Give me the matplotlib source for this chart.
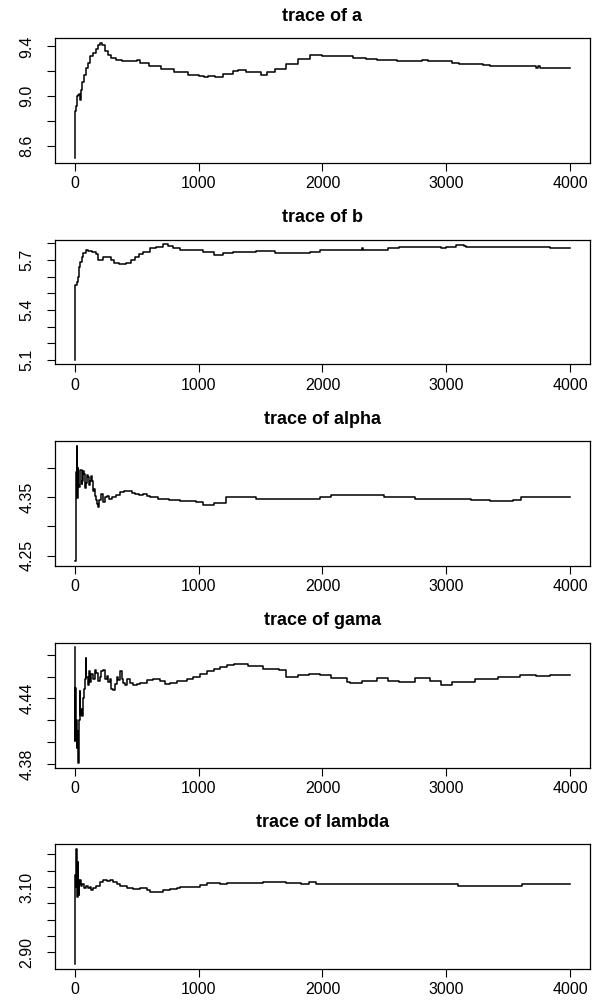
import numpy as np
import matplotlib
matplotlib.use('Agg')
import matplotlib.pyplot as plt
import matplotlib.ticker as mticker

plt.rcParams['font.family'] = ['Liberation Sans', 'DejaVu Sans']

N_ITER = 4000
x_ticks = [0, 1000, 2000, 3000, 4000]

# running-mean traces (iteration, value)
a_iter = [1, 5, 12, 18, 30, 37, 40, 50, 61, 75, 91, 105, 122, 145, 168, 190, 207, 220, 244, 265,
          290, 330, 380, 457, 500, 530, 600, 700, 800, 915, 1000, 1040, 1080, 1130, 1200, 1280,
          1320, 1380, 1463, 1500, 1550, 1620, 1707, 1800, 1900, 1960, 2000, 2134, 2250, 2350,
          2439, 2600, 2744, 2800, 2850, 3049, 3100, 3300, 3354, 3700, 3720, 3740, 3760, 4000]
a_vals = [8.50, 8.88, 8.92, 9.00, 9.01, 9.02, 8.97, 9.05, 9.11, 9.17, 9.23, 9.27, 9.32, 9.35,
          9.38, 9.41, 9.43, 9.41, 9.36, 9.33, 9.31, 9.29, 9.28, 9.28, 9.29, 9.27, 9.24, 9.22,
          9.19, 9.17, 9.16, 9.15, 9.16, 9.15, 9.18, 9.20, 9.21, 9.19, 9.19, 9.17, 9.19, 9.22,
          9.26, 9.30, 9.33, 9.33, 9.32, 9.32, 9.31, 9.30, 9.29, 9.28, 9.28, 9.29, 9.28, 9.27,
          9.26, 9.25, 9.24, 9.24, 9.23, 9.24, 9.23, 9.23]
a_ticks = [8.6, 8.8, 9.0, 9.2, 9.4]
a_labels = ['8.6', '', '9.0', '', '9.4']

b_iter = [1, 3, 15, 25, 37, 45, 55, 70, 91, 110, 137, 168, 189, 210, 230, 260, 290, 320, 360,
          412, 457, 490, 518, 549, 580, 610, 660, 716, 750, 793, 850, 915, 1037, 1128, 1200,
          1280, 1400, 1463, 1616, 1829, 1900, 1982, 2317, 2330, 2439, 2530, 2620, 2957, 3000,
          3079, 3140, 3160, 3811, 3841, 4000]
b_vals = [5.10, 5.55, 5.57, 5.60, 5.655, 5.69, 5.72, 5.74, 5.76, 5.755, 5.75, 5.735, 5.70,
          5.70, 5.715, 5.72, 5.70, 5.68, 5.675, 5.68, 5.70, 5.72, 5.735, 5.745, 5.745, 5.77,
          5.78, 5.795, 5.785, 5.77, 5.76, 5.757, 5.746, 5.73, 5.74, 5.746, 5.75, 5.755, 5.74,
          5.74, 5.75, 5.76, 5.77, 5.76, 5.757, 5.77, 5.775, 5.77, 5.78, 5.79, 5.785, 5.78,
          5.78, 5.77, 5.77]
b_ticks = [5.1, 5.2, 5.3, 5.4, 5.5, 5.6, 5.7, 5.8]
b_labels = ['5.1', '', '', '5.4', '', '', '5.7', '']

alpha_iter = [1, 9, 15, 18, 24, 30, 37, 46, 55, 61, 68, 76, 84, 91, 99, 107, 115, 122, 130,
              137, 145, 152, 160, 168, 180, 189, 200, 213, 229, 245, 259, 280, 305, 335, 366,
              400, 427, 460, 488, 520, 549, 580, 610, 671, 762, 854, 976, 1037, 1128, 1220,
              1372, 1463, 1550, 1677, 1982, 2073, 2439, 2500, 2744, 3201, 3354, 3537, 3600, 4000]
alpha_vals = [4.24, 4.393, 4.438, 4.349, 4.40, 4.37, 4.368, 4.397, 4.372, 4.377, 4.395, 4.39,
              4.366, 4.374, 4.388, 4.384, 4.37, 4.377, 4.386, 4.378, 4.36, 4.364, 4.352, 4.345,
              4.338, 4.333, 4.345, 4.355, 4.342, 4.35, 4.352, 4.347, 4.35, 4.354, 4.358, 4.36,
              4.36, 4.357, 4.356, 4.353, 4.356, 4.352, 4.35, 4.347, 4.345, 4.343, 4.341, 4.337,
              4.34, 4.35, 4.35, 4.346, 4.346, 4.347, 4.35, 4.354, 4.354, 4.35, 4.347, 4.345,
              4.344, 4.345, 4.35, 4.35]
alpha_ticks = [4.25, 4.30, 4.35, 4.40]
alpha_labels = ['4.25', '', '4.35', '']

gama_iter = [1, 3, 6, 9, 13, 17, 21, 25, 28, 31, 38, 41, 45, 49, 59, 64, 68, 76, 82, 89, 95,
             105, 115, 125, 135, 149, 162, 176, 190, 203, 216, 230, 243, 257, 270, 284, 297,
             311, 324, 338, 351, 365, 378, 392, 405, 419, 446, 473, 500, 527, 581, 635, 689,
             730, 770, 824, 905, 959, 1014, 1068, 1122, 1176, 1230, 1284, 1338, 1402, 1524,
             1646, 1707, 1799, 1890, 1982, 2073, 2195, 2226, 2317, 2439, 2530, 2622, 2744,
             2866, 2957, 3049, 3232, 3415, 3598, 3720, 3841, 4000]
gama_vals = [4.487, 4.401, 4.450, 4.405, 4.420, 4.395, 4.410, 4.388, 4.381, 4.400, 4.420,
             4.447, 4.425, 4.430, 4.424, 4.440, 4.440, 4.449, 4.458, 4.477, 4.460, 4.452,
             4.465, 4.455, 4.462, 4.458, 4.466, 4.463, 4.456, 4.460, 4.465, 4.466, 4.458,
             4.461, 4.455, 4.458, 4.449, 4.448, 4.453, 4.460, 4.457, 4.465, 4.458, 4.454,
             4.452, 4.458, 4.454, 4.452, 4.453, 4.454, 4.457, 4.458, 4.456, 4.453, 4.454,
             4.456, 4.458, 4.460, 4.462, 4.465, 4.467, 4.469, 4.471, 4.4715, 4.472, 4.4697,
             4.4674, 4.4663, 4.4595, 4.4612, 4.4622, 4.4612, 4.4585, 4.4551, 4.4537, 4.4561,
             4.4585, 4.4561, 4.4551, 4.4585, 4.4561, 4.4527, 4.4551, 4.4578, 4.4595, 4.4612,
             4.4602, 4.4612, 4.4612]
gama_ticks = [4.38, 4.40, 4.42, 4.44, 4.46, 4.48]
gama_labels = ['4.38', '', '', '4.44', '', '']

lambda_iter = [1, 3, 7, 11, 14, 17, 19, 23, 27, 30, 32, 36, 41, 47, 54, 61, 68, 75, 81, 88,
               95, 108, 122, 135, 149, 176, 203, 230, 257, 284, 311, 338, 365, 419, 473, 527,
               581, 608, 689, 716, 770, 824, 851, 959, 1014, 1068, 1176, 1230, 1338, 1524,
               1707, 1829, 1890, 1951, 3079, 3094, 3598, 3613, 4000]
lambda_vals = [2.862, 3.138, 3.10, 3.14, 3.218, 3.10, 3.069, 3.15, 3.178, 3.12, 3.075, 3.11,
               3.12, 3.105, 3.103, 3.11, 3.109, 3.097, 3.097, 3.103, 3.103, 3.097, 3.10,
               3.092, 3.097, 3.103, 3.114, 3.123, 3.118, 3.12, 3.114, 3.109, 3.103, 3.097,
               3.095, 3.097, 3.092, 3.086, 3.086, 3.092, 3.094, 3.097, 3.099, 3.099, 3.107,
               3.111, 3.109, 3.111, 3.111, 3.115, 3.113, 3.109, 3.114, 3.109, 3.109, 3.104,
               3.104, 3.109, 3.109]
lambda_ticks = [2.90, 2.95, 3.00, 3.05, 3.10, 3.15, 3.20]
lambda_labels = ['2.90', '', '', '', '3.10', '', '']

panels = [
    ('a', a_iter, a_vals, a_ticks, a_labels),
    ('b', b_iter, b_vals, b_ticks, b_labels),
    ('alpha', alpha_iter, alpha_vals, alpha_ticks, alpha_labels),
    ('gama', gama_iter, gama_vals, gama_ticks, gama_labels),
    ('lambda', lambda_iter, lambda_vals, lambda_ticks, lambda_labels),
]


def r_range(lo, hi):
    # R pads the data range by 4% on each side
    pad = 0.04 * (hi - lo)
    return lo - pad, hi + pad


W, H = 592, 1001
fig = plt.figure(figsize=(W / 100, H / 100), dpi=100)

for k, (name, it, vals, ticks, labels) in enumerate(panels):
    top = 201.5 * k + 38
    bottom = 201.5 * k + 163
    ax = fig.add_axes([55 / W, 1 - bottom / H, 535 / W, (bottom - top) / H])

    ax.plot(it, vals, color='black', lw=1.1, drawstyle='steps-post')

    ax.set_xlim(*r_range(1, N_ITER))
    ax.set_ylim(*r_range(min(vals), max(vals)))

    ax.xaxis.set_major_locator(mticker.FixedLocator(x_ticks))
    ax.set_xticklabels([str(t) for t in x_ticks])
    ax.yaxis.set_major_locator(mticker.FixedLocator(ticks))
    ax.set_yticklabels(labels, rotation=90, va='center')

    ax.tick_params(axis='both', direction='out', length=6, width=0.8,
                   labelsize=11.5, colors='black')
    ax.tick_params(axis='x', pad=3.5)
    ax.tick_params(axis='y', pad=9)
    for s in ax.spines.values():
        s.set_linewidth(0.9)

    ax.set_title(f'trace of {name}', fontsize=13, fontweight='bold', pad=12.5)

fig.savefig('out.png', dpi=100)
plt.close()
print("Saved: out.png")
